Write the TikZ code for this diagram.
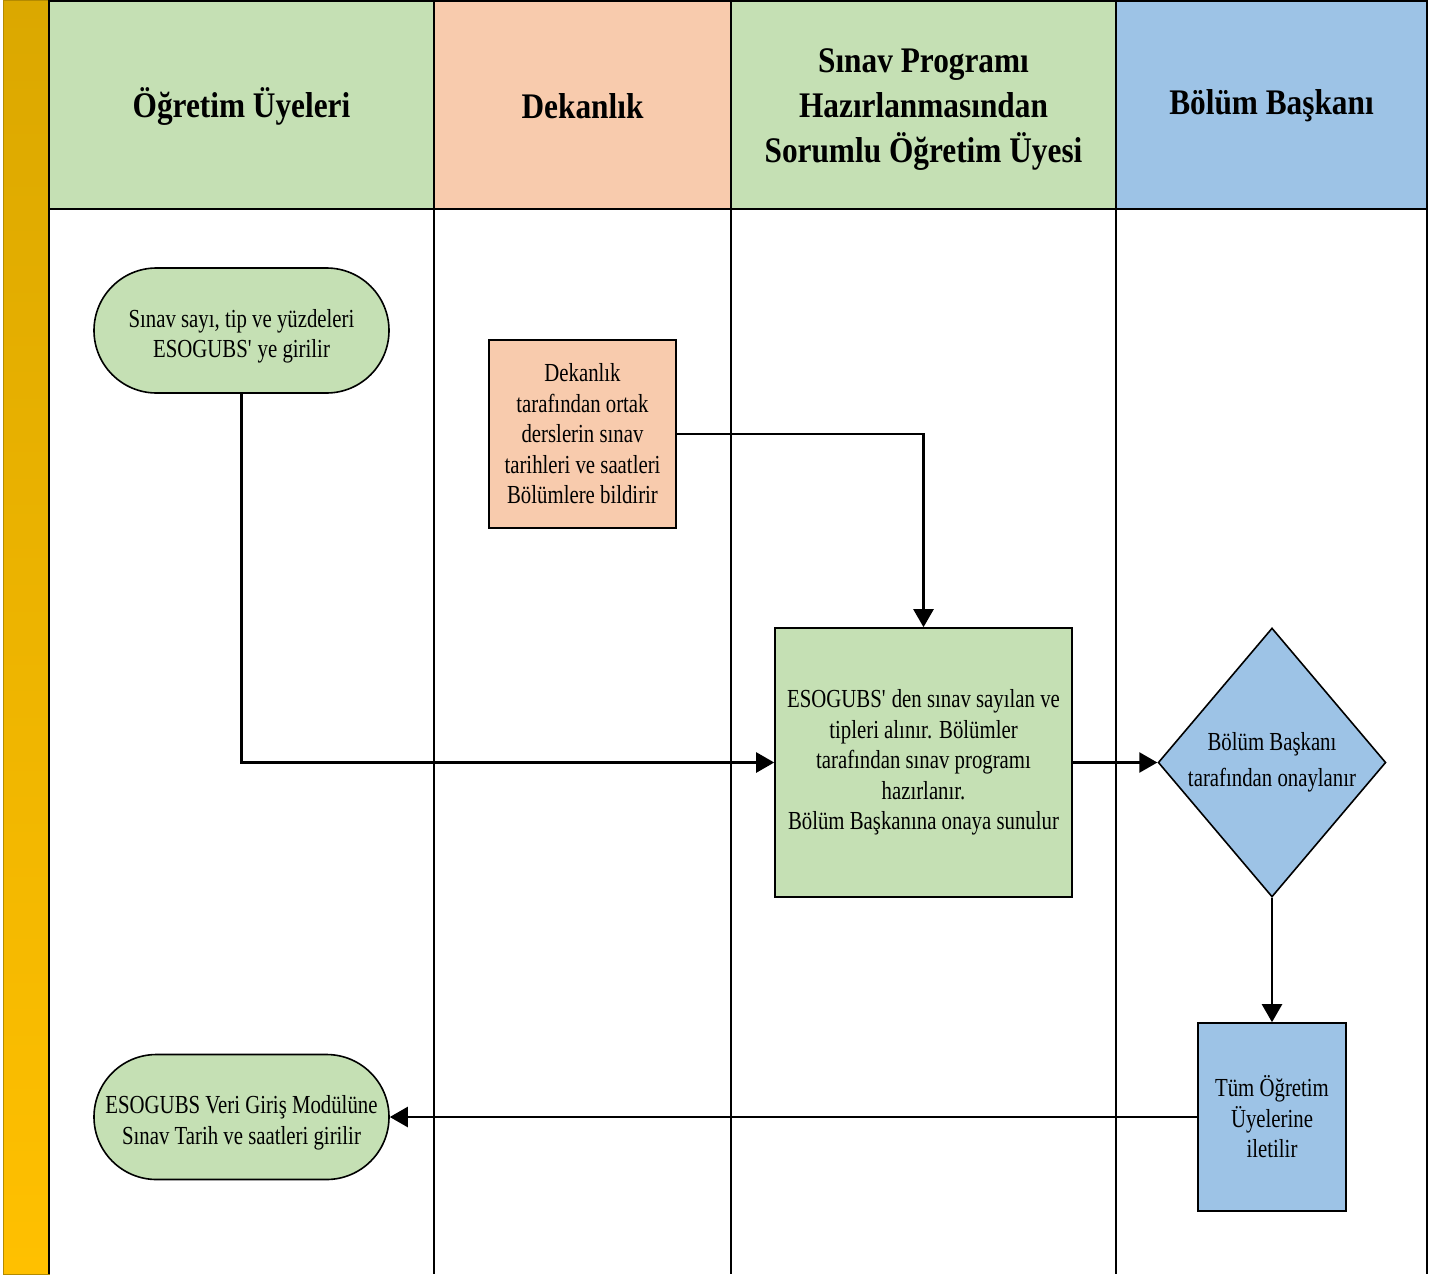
\documentclass[tikz,border=0pt]{standalone}
\usepackage{fontspec}
\setmainfont{Liberation Serif}[FakeStretch=0.8]
\newfontfamily\headfont{Liberation Serif}[FakeStretch=0.87]
\usetikzlibrary{arrows.meta,shapes.geometric,shapes.misc}
\definecolor{lanegreen}{HTML}{C5E0B4}
\definecolor{lanepeach}{HTML}{F8CBAD}
\definecolor{laneblue}{HTML}{9DC3E6}
\definecolor{bartop}{HTML}{DBA800}
\definecolor{barbot}{HTML}{FFC000}
\definecolor{baredge}{HTML}{B48A00}
\newcommand{\lowerstrut}{\rule{0pt}{30pt}}
\begin{document}
\begin{tikzpicture}[x=1pt,y=-1pt,
  line width=2.2pt,
  lanehead/.style={font=\headfont\fontsize{36}{45}\selectfont\bfseries, align=center},
  body/.style={font=\fontsize{26}{30.5}\selectfont, align=center, draw=black, line width=1.6pt},
  terminal/.style={body, rounded rectangle, fill=lanegreen, minimum width=295pt, minimum height=125pt, inner sep=0pt},
  stepbox/.style={body, rectangle, inner sep=0pt},
  decision/.style={body, diamond, fill=laneblue, minimum width=224pt, minimum height=269pt, inner sep=0pt, font=\fontsize{26}{36}\selectfont},
  flow/.style={draw=black, line width=2.4pt, -{Triangle[length=18pt,width=20pt]}}
]
\useasboundingbox (0,0) rectangle (1437,1274);
\fill[white] (0,0) rectangle (1437,1274);

% header cells
\fill[lanegreen] (49,0) rectangle (434,209);
\fill[lanepeach] (434,0) rectangle (731,209);
\fill[lanegreen] (731,0) rectangle (1116,209);
\fill[laneblue]  (1116,0) rectangle (1427,209);

% side bar
\shade[top color=bartop, bottom color=barbot, draw=baredge, line width=1pt] (3.5,0.5) rectangle (49,1274);

% lane grid
\draw (49,1) -- (1427,1);
\draw (49,209) -- (1427,209);
\foreach \x in {49,434,731,1116,1427} \draw (\x,0) -- (\x,1274);

% lane titles
\node[lanehead] (h1) at (241.5,106) {Öğretim Üyeleri};
\node[lanehead] (h2) at (582.5,106) {Dekanlık};
\node[lanehead] (h3) at (923.5,110) {Sınav Programı\\Hazırlanmasından\\Sorumlu Öğretim Üyesi};
\node[lanehead] (h4) at (1271.5,106) {Bölüm Başkanı};

% process nodes
\node[terminal] (enter) at (241.5,330.5) {\lowerstrut Sınav sayı, tip ve yüzdeleri\\ESOGUBS\textquotesingle{} ye girilir};
\node[stepbox, fill=lanepeach, minimum width=187pt, minimum height=188pt] (dean) at (582.5,434) {Dekanlık\\tarafından ortak\\derslerin sınav\\tarihleri ve saatleri\\Bölümlere bildirir};
\node[stepbox, fill=lanegreen, minimum width=297pt, minimum height=269pt] (prep) at (923.5,762.5) {ESOGUBS\textquotesingle{} den sınav sayılan ve\\tipleri alınır. Bölümler\\tarafından sınav programı\\hazırlanır.\\Bölüm Başkanına onaya sunulur};
\node[decision] (approve) at (1272,762.5) {Bölüm Başkanı\\tarafından onaylanır};
\node[stepbox, fill=laneblue, minimum width=148pt, minimum height=188pt] (send) at (1272,1117) {Tüm Öğretim\\Üyelerine\\iletilir};
\node[terminal] (final) at (241.5,1117) {\lowerstrut ESOGUBS Veri Giriş Modülüne\\Sınav Tarih ve saatleri girilir};

% connectors
\draw[flow] (enter.south) |- (prep.west);
\draw[flow] (dean.east) -| (prep.north);
\draw[flow] (prep.east) -- (approve.west);
\draw[flow] (approve.south) -- (send.north);
\draw[flow] (send.west) -- (final.east);
\end{tikzpicture}
\end{document}
